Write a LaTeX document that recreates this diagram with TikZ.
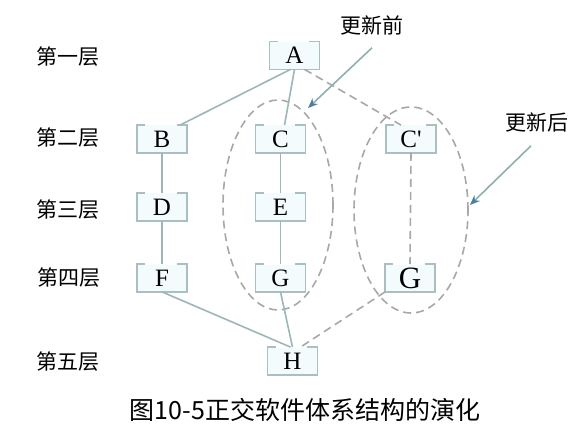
\documentclass[tikz,border=0pt]{standalone}
\usepackage{fontspec}
\setmainfont{Liberation Serif}[Ligatures=TeXOff]
\newfontfamily\cjk{Noto Sans CJK SC}
\usetikzlibrary{arrows.meta}
\definecolor{bxline}{HTML}{A9BFC4}
\definecolor{bxfill}{HTML}{F3FBFD}
\definecolor{solc}{HTML}{9DB6B8}
\definecolor{dshc}{HTML}{A8A8A8}
\definecolor{annc}{HTML}{8EAFB2}
\definecolor{arrhead}{HTML}{4A7FA0}
\begin{document}
\begin{tikzpicture}[x=0.5pt,y=-0.5pt,
  bx/.style={minimum width=24.5pt, minimum height=13.5pt, inner sep=0pt, fill=bxfill, font=\fontsize{12.5}{12.5}\selectfont},
  bxframe/.style={draw=bxline, line width=0.8pt},
  lbl/.style={font=\cjk\fontsize{10.5}{12}\selectfont},
  sol/.style={draw=solc, line width=0.8pt},
  dsh/.style={draw=dshc, line width=0.8pt, dash pattern=on 4pt off 2.5pt},
  ann/.style={draw=annc, line width=0.8pt, -{Stealth[length=5pt,width=4pt,color=arrhead]}}
]
\useasboundingbox (0,0) rectangle (583,438);
% row labels
\node[lbl] (L1) at (68,57) {第一层};
\node[lbl] (L2) at (68,138) {第二层};
\node[lbl] (L3) at (68,210) {第三层};
\node[lbl] (L4) at (69,278) {第四层};
\node[lbl] (L5) at (68,362) {第五层};
% boxes
\node[bx] (A) at (294.5,55.5) {A};
\node[bx] (B) at (162,139) {B};
\node[bx] (C) at (280.5,139) {C};
\node[bx] (C2) at (411,139) {C'};
\node[bx] (D) at (162,207) {D};
\node[bx] (E) at (280.5,207) {E};
\node[bx] (F) at (162,278) {F};
\node[bx] (G) at (280.5,278) {G};
\node[bx, font=\fontsize{15.5}{15.5}\selectfont] (G2) at (410,278) {G};
\node[bx] (H) at (292.5,361) {H};
\foreach \n in {A,B,C,C2,D,E,F,G,G2,H}
  \draw[bxframe] ([xshift=4pt]\n.north west) -- (\n.north west) -- (\n.south west)
     -- (\n.south east) -- (\n.north east) -- ([xshift=-5pt]\n.north east);
% ellipses
\draw[dsh] (278,205) ellipse [x radius=27.5pt, y radius=52.5pt];
\draw[dsh] (411,210) ellipse [x radius=28.5pt, y radius=51.5pt];
% connectors
\draw[sol] ([xshift=-2pt]A.south) -- ([xshift=9pt]B.north);
\draw[sol] (A.south) -- ([xshift=2pt]C.north);
\draw[dsh] ([xshift=5pt]A.south) -- ([xshift=-5pt]C2.north);
\draw[sol] (B.south) -- (D.north);
\draw[sol] (D.south) -- (F.north);
\draw[sol] (C.south) -- (E.north);
\draw[sol] (E.south) -- (G.north);
\draw[dsh] (C2.south) -- (G2.north);
\draw[sol] (F.south) -- ([xshift=-1pt]H.north);
\draw[sol] (G.south) -- (H.north);
\draw[dsh] (G2.south west) -- ([xshift=4pt]H.north);
% annotations
\node[lbl] (T1) at (372,25) {更新前};
\node[lbl] (T2) at (537,123) {更新后};
\coordinate (P1) at (308,108);
\coordinate (P2) at (470,205);
\draw[ann] ([yshift=-3pt]T1.south) -- (P1);
\draw[ann] ([xshift=-3pt,yshift=-3pt]T2.south) -- (P2);
% caption
\node[font=\cjk\fontsize{12.5}{14}\selectfont] (cap) at (305,410) {图10-5正交软件体系结构的演化};
\end{tikzpicture}
\end{document}
